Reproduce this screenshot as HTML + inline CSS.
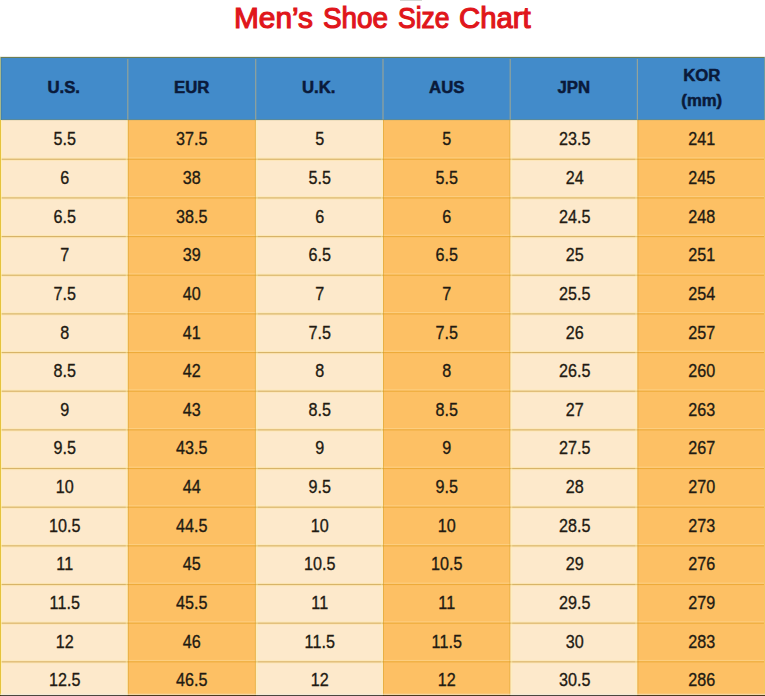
<!DOCTYPE html>
<html lang="en"><head><meta charset="utf-8"><title>Men's Shoe Size Chart</title>
<style>
html,body{margin:0;padding:0;background:#fff;}
body{width:765px;height:696px;overflow:hidden;position:relative;font-family:"Liberation Sans",Arial,sans-serif;}
#title{position:absolute;left:0;top:1px;width:765px;height:40px;color:#e0161b;-webkit-text-stroke:1.2px #e0161b;font-size:29.8px;line-height:normal;white-space:nowrap;}
#title span{position:absolute;top:0;display:block;transform-origin:0 50%;}
#grid{position:absolute;left:0;top:0;width:765px;height:696px;}
#tbl{position:absolute;left:0;top:57px;width:765px;height:639px;overflow:hidden;}
.hd{position:absolute;top:0;height:63px;color:#0a1a3a;-webkit-text-stroke:0.5px #0a1a3a;font-weight:bold;font-size:16px;text-align:center;}
.hd div{position:absolute;left:0;width:100%;height:25px;line-height:25px;transform:scaleX(1.045);}
.cell{position:absolute;height:38.66px;line-height:38.66px;text-align:center;font-size:17px;transform:scale(0.95,1.05);color:#221a12;-webkit-text-stroke:0.3px #221a12;}
</style></head><body>

<svg id="grid" width="765" height="696" viewBox="0 0 765 696">
<rect x="400" y="0" width="22" height="0.6" fill="#b9c0b9"/>
<rect x="0" y="120" width="765" height="576" fill="#fde9cb"/>
<rect x="127.80" y="120" width="127.90" height="576" fill="#fdc064"/>
<rect x="383.00" y="120" width="127.20" height="576" fill="#fdc064"/>
<rect x="637.40" y="120" width="127.60" height="576" fill="#fdc064"/>
<rect x="0" y="57" width="765" height="63" fill="#428bca"/>
<rect x="0" y="157.35" width="765" height="1.2" fill="#fff6cf" fill-opacity="0.25"/>
<rect x="0.00" y="157.65" width="127.80" height="3.2" fill="#ffe08a" fill-opacity="0.32"/>
<rect x="0.00" y="158.70" width="127.80" height="1.1" fill="#b4821c" fill-opacity="0.5"/>
<rect x="127.80" y="158.70" width="127.90" height="1.1" fill="#d89000" fill-opacity="0.42"/>
<rect x="255.70" y="157.65" width="127.30" height="3.2" fill="#ffe08a" fill-opacity="0.32"/>
<rect x="255.70" y="158.70" width="127.30" height="1.1" fill="#b4821c" fill-opacity="0.5"/>
<rect x="383.00" y="158.70" width="127.20" height="1.1" fill="#d89000" fill-opacity="0.42"/>
<rect x="510.20" y="157.65" width="127.20" height="3.2" fill="#ffe08a" fill-opacity="0.32"/>
<rect x="510.20" y="158.70" width="127.20" height="1.1" fill="#b4821c" fill-opacity="0.5"/>
<rect x="637.40" y="158.70" width="127.60" height="1.1" fill="#d89000" fill-opacity="0.42"/>
<rect x="0" y="196.01" width="765" height="1.2" fill="#fff6cf" fill-opacity="0.25"/>
<rect x="0.00" y="196.31" width="127.80" height="3.2" fill="#ffe08a" fill-opacity="0.32"/>
<rect x="0.00" y="197.36" width="127.80" height="1.1" fill="#b4821c" fill-opacity="0.5"/>
<rect x="127.80" y="197.36" width="127.90" height="1.1" fill="#d89000" fill-opacity="0.42"/>
<rect x="255.70" y="196.31" width="127.30" height="3.2" fill="#ffe08a" fill-opacity="0.32"/>
<rect x="255.70" y="197.36" width="127.30" height="1.1" fill="#b4821c" fill-opacity="0.5"/>
<rect x="383.00" y="197.36" width="127.20" height="1.1" fill="#d89000" fill-opacity="0.42"/>
<rect x="510.20" y="196.31" width="127.20" height="3.2" fill="#ffe08a" fill-opacity="0.32"/>
<rect x="510.20" y="197.36" width="127.20" height="1.1" fill="#b4821c" fill-opacity="0.5"/>
<rect x="637.40" y="197.36" width="127.60" height="1.1" fill="#d89000" fill-opacity="0.42"/>
<rect x="0" y="234.67" width="765" height="1.2" fill="#fff6cf" fill-opacity="0.25"/>
<rect x="0.00" y="234.97" width="127.80" height="3.2" fill="#ffe08a" fill-opacity="0.32"/>
<rect x="0.00" y="236.02" width="127.80" height="1.1" fill="#b4821c" fill-opacity="0.5"/>
<rect x="127.80" y="236.02" width="127.90" height="1.1" fill="#d89000" fill-opacity="0.42"/>
<rect x="255.70" y="234.97" width="127.30" height="3.2" fill="#ffe08a" fill-opacity="0.32"/>
<rect x="255.70" y="236.02" width="127.30" height="1.1" fill="#b4821c" fill-opacity="0.5"/>
<rect x="383.00" y="236.02" width="127.20" height="1.1" fill="#d89000" fill-opacity="0.42"/>
<rect x="510.20" y="234.97" width="127.20" height="3.2" fill="#ffe08a" fill-opacity="0.32"/>
<rect x="510.20" y="236.02" width="127.20" height="1.1" fill="#b4821c" fill-opacity="0.5"/>
<rect x="637.40" y="236.02" width="127.60" height="1.1" fill="#d89000" fill-opacity="0.42"/>
<rect x="0" y="273.33" width="765" height="1.2" fill="#fff6cf" fill-opacity="0.25"/>
<rect x="0.00" y="273.63" width="127.80" height="3.2" fill="#ffe08a" fill-opacity="0.32"/>
<rect x="0.00" y="274.68" width="127.80" height="1.1" fill="#b4821c" fill-opacity="0.5"/>
<rect x="127.80" y="274.68" width="127.90" height="1.1" fill="#d89000" fill-opacity="0.42"/>
<rect x="255.70" y="273.63" width="127.30" height="3.2" fill="#ffe08a" fill-opacity="0.32"/>
<rect x="255.70" y="274.68" width="127.30" height="1.1" fill="#b4821c" fill-opacity="0.5"/>
<rect x="383.00" y="274.68" width="127.20" height="1.1" fill="#d89000" fill-opacity="0.42"/>
<rect x="510.20" y="273.63" width="127.20" height="3.2" fill="#ffe08a" fill-opacity="0.32"/>
<rect x="510.20" y="274.68" width="127.20" height="1.1" fill="#b4821c" fill-opacity="0.5"/>
<rect x="637.40" y="274.68" width="127.60" height="1.1" fill="#d89000" fill-opacity="0.42"/>
<rect x="0" y="311.99" width="765" height="1.2" fill="#fff6cf" fill-opacity="0.25"/>
<rect x="0.00" y="312.29" width="127.80" height="3.2" fill="#ffe08a" fill-opacity="0.32"/>
<rect x="0.00" y="313.34" width="127.80" height="1.1" fill="#b4821c" fill-opacity="0.5"/>
<rect x="127.80" y="313.34" width="127.90" height="1.1" fill="#d89000" fill-opacity="0.42"/>
<rect x="255.70" y="312.29" width="127.30" height="3.2" fill="#ffe08a" fill-opacity="0.32"/>
<rect x="255.70" y="313.34" width="127.30" height="1.1" fill="#b4821c" fill-opacity="0.5"/>
<rect x="383.00" y="313.34" width="127.20" height="1.1" fill="#d89000" fill-opacity="0.42"/>
<rect x="510.20" y="312.29" width="127.20" height="3.2" fill="#ffe08a" fill-opacity="0.32"/>
<rect x="510.20" y="313.34" width="127.20" height="1.1" fill="#b4821c" fill-opacity="0.5"/>
<rect x="637.40" y="313.34" width="127.60" height="1.1" fill="#d89000" fill-opacity="0.42"/>
<rect x="0" y="350.65" width="765" height="1.2" fill="#fff6cf" fill-opacity="0.25"/>
<rect x="0.00" y="350.95" width="127.80" height="3.2" fill="#ffe08a" fill-opacity="0.32"/>
<rect x="0.00" y="352.00" width="127.80" height="1.1" fill="#b4821c" fill-opacity="0.5"/>
<rect x="127.80" y="352.00" width="127.90" height="1.1" fill="#d89000" fill-opacity="0.42"/>
<rect x="255.70" y="350.95" width="127.30" height="3.2" fill="#ffe08a" fill-opacity="0.32"/>
<rect x="255.70" y="352.00" width="127.30" height="1.1" fill="#b4821c" fill-opacity="0.5"/>
<rect x="383.00" y="352.00" width="127.20" height="1.1" fill="#d89000" fill-opacity="0.42"/>
<rect x="510.20" y="350.95" width="127.20" height="3.2" fill="#ffe08a" fill-opacity="0.32"/>
<rect x="510.20" y="352.00" width="127.20" height="1.1" fill="#b4821c" fill-opacity="0.5"/>
<rect x="637.40" y="352.00" width="127.60" height="1.1" fill="#d89000" fill-opacity="0.42"/>
<rect x="0" y="389.31" width="765" height="1.2" fill="#fff6cf" fill-opacity="0.25"/>
<rect x="0.00" y="389.61" width="127.80" height="3.2" fill="#ffe08a" fill-opacity="0.32"/>
<rect x="0.00" y="390.66" width="127.80" height="1.1" fill="#b4821c" fill-opacity="0.5"/>
<rect x="127.80" y="390.66" width="127.90" height="1.1" fill="#d89000" fill-opacity="0.42"/>
<rect x="255.70" y="389.61" width="127.30" height="3.2" fill="#ffe08a" fill-opacity="0.32"/>
<rect x="255.70" y="390.66" width="127.30" height="1.1" fill="#b4821c" fill-opacity="0.5"/>
<rect x="383.00" y="390.66" width="127.20" height="1.1" fill="#d89000" fill-opacity="0.42"/>
<rect x="510.20" y="389.61" width="127.20" height="3.2" fill="#ffe08a" fill-opacity="0.32"/>
<rect x="510.20" y="390.66" width="127.20" height="1.1" fill="#b4821c" fill-opacity="0.5"/>
<rect x="637.40" y="390.66" width="127.60" height="1.1" fill="#d89000" fill-opacity="0.42"/>
<rect x="0" y="427.97" width="765" height="1.2" fill="#fff6cf" fill-opacity="0.25"/>
<rect x="0.00" y="428.27" width="127.80" height="3.2" fill="#ffe08a" fill-opacity="0.32"/>
<rect x="0.00" y="429.32" width="127.80" height="1.1" fill="#b4821c" fill-opacity="0.5"/>
<rect x="127.80" y="429.32" width="127.90" height="1.1" fill="#d89000" fill-opacity="0.42"/>
<rect x="255.70" y="428.27" width="127.30" height="3.2" fill="#ffe08a" fill-opacity="0.32"/>
<rect x="255.70" y="429.32" width="127.30" height="1.1" fill="#b4821c" fill-opacity="0.5"/>
<rect x="383.00" y="429.32" width="127.20" height="1.1" fill="#d89000" fill-opacity="0.42"/>
<rect x="510.20" y="428.27" width="127.20" height="3.2" fill="#ffe08a" fill-opacity="0.32"/>
<rect x="510.20" y="429.32" width="127.20" height="1.1" fill="#b4821c" fill-opacity="0.5"/>
<rect x="637.40" y="429.32" width="127.60" height="1.1" fill="#d89000" fill-opacity="0.42"/>
<rect x="0" y="466.63" width="765" height="1.2" fill="#fff6cf" fill-opacity="0.25"/>
<rect x="0.00" y="466.93" width="127.80" height="3.2" fill="#ffe08a" fill-opacity="0.32"/>
<rect x="0.00" y="467.98" width="127.80" height="1.1" fill="#b4821c" fill-opacity="0.5"/>
<rect x="127.80" y="467.98" width="127.90" height="1.1" fill="#d89000" fill-opacity="0.42"/>
<rect x="255.70" y="466.93" width="127.30" height="3.2" fill="#ffe08a" fill-opacity="0.32"/>
<rect x="255.70" y="467.98" width="127.30" height="1.1" fill="#b4821c" fill-opacity="0.5"/>
<rect x="383.00" y="467.98" width="127.20" height="1.1" fill="#d89000" fill-opacity="0.42"/>
<rect x="510.20" y="466.93" width="127.20" height="3.2" fill="#ffe08a" fill-opacity="0.32"/>
<rect x="510.20" y="467.98" width="127.20" height="1.1" fill="#b4821c" fill-opacity="0.5"/>
<rect x="637.40" y="467.98" width="127.60" height="1.1" fill="#d89000" fill-opacity="0.42"/>
<rect x="0" y="505.29" width="765" height="1.2" fill="#fff6cf" fill-opacity="0.25"/>
<rect x="0.00" y="505.59" width="127.80" height="3.2" fill="#ffe08a" fill-opacity="0.32"/>
<rect x="0.00" y="506.64" width="127.80" height="1.1" fill="#b4821c" fill-opacity="0.5"/>
<rect x="127.80" y="506.64" width="127.90" height="1.1" fill="#d89000" fill-opacity="0.42"/>
<rect x="255.70" y="505.59" width="127.30" height="3.2" fill="#ffe08a" fill-opacity="0.32"/>
<rect x="255.70" y="506.64" width="127.30" height="1.1" fill="#b4821c" fill-opacity="0.5"/>
<rect x="383.00" y="506.64" width="127.20" height="1.1" fill="#d89000" fill-opacity="0.42"/>
<rect x="510.20" y="505.59" width="127.20" height="3.2" fill="#ffe08a" fill-opacity="0.32"/>
<rect x="510.20" y="506.64" width="127.20" height="1.1" fill="#b4821c" fill-opacity="0.5"/>
<rect x="637.40" y="506.64" width="127.60" height="1.1" fill="#d89000" fill-opacity="0.42"/>
<rect x="0" y="543.95" width="765" height="1.2" fill="#fff6cf" fill-opacity="0.25"/>
<rect x="0.00" y="544.25" width="127.80" height="3.2" fill="#ffe08a" fill-opacity="0.32"/>
<rect x="0.00" y="545.30" width="127.80" height="1.1" fill="#b4821c" fill-opacity="0.5"/>
<rect x="127.80" y="545.30" width="127.90" height="1.1" fill="#d89000" fill-opacity="0.42"/>
<rect x="255.70" y="544.25" width="127.30" height="3.2" fill="#ffe08a" fill-opacity="0.32"/>
<rect x="255.70" y="545.30" width="127.30" height="1.1" fill="#b4821c" fill-opacity="0.5"/>
<rect x="383.00" y="545.30" width="127.20" height="1.1" fill="#d89000" fill-opacity="0.42"/>
<rect x="510.20" y="544.25" width="127.20" height="3.2" fill="#ffe08a" fill-opacity="0.32"/>
<rect x="510.20" y="545.30" width="127.20" height="1.1" fill="#b4821c" fill-opacity="0.5"/>
<rect x="637.40" y="545.30" width="127.60" height="1.1" fill="#d89000" fill-opacity="0.42"/>
<rect x="0" y="582.61" width="765" height="1.2" fill="#fff6cf" fill-opacity="0.25"/>
<rect x="0.00" y="582.91" width="127.80" height="3.2" fill="#ffe08a" fill-opacity="0.32"/>
<rect x="0.00" y="583.96" width="127.80" height="1.1" fill="#b4821c" fill-opacity="0.5"/>
<rect x="127.80" y="583.96" width="127.90" height="1.1" fill="#d89000" fill-opacity="0.42"/>
<rect x="255.70" y="582.91" width="127.30" height="3.2" fill="#ffe08a" fill-opacity="0.32"/>
<rect x="255.70" y="583.96" width="127.30" height="1.1" fill="#b4821c" fill-opacity="0.5"/>
<rect x="383.00" y="583.96" width="127.20" height="1.1" fill="#d89000" fill-opacity="0.42"/>
<rect x="510.20" y="582.91" width="127.20" height="3.2" fill="#ffe08a" fill-opacity="0.32"/>
<rect x="510.20" y="583.96" width="127.20" height="1.1" fill="#b4821c" fill-opacity="0.5"/>
<rect x="637.40" y="583.96" width="127.60" height="1.1" fill="#d89000" fill-opacity="0.42"/>
<rect x="0" y="621.27" width="765" height="1.2" fill="#fff6cf" fill-opacity="0.25"/>
<rect x="0.00" y="621.57" width="127.80" height="3.2" fill="#ffe08a" fill-opacity="0.32"/>
<rect x="0.00" y="622.62" width="127.80" height="1.1" fill="#b4821c" fill-opacity="0.5"/>
<rect x="127.80" y="622.62" width="127.90" height="1.1" fill="#d89000" fill-opacity="0.42"/>
<rect x="255.70" y="621.57" width="127.30" height="3.2" fill="#ffe08a" fill-opacity="0.32"/>
<rect x="255.70" y="622.62" width="127.30" height="1.1" fill="#b4821c" fill-opacity="0.5"/>
<rect x="383.00" y="622.62" width="127.20" height="1.1" fill="#d89000" fill-opacity="0.42"/>
<rect x="510.20" y="621.57" width="127.20" height="3.2" fill="#ffe08a" fill-opacity="0.32"/>
<rect x="510.20" y="622.62" width="127.20" height="1.1" fill="#b4821c" fill-opacity="0.5"/>
<rect x="637.40" y="622.62" width="127.60" height="1.1" fill="#d89000" fill-opacity="0.42"/>
<rect x="0" y="659.93" width="765" height="1.2" fill="#fff6cf" fill-opacity="0.25"/>
<rect x="0.00" y="660.23" width="127.80" height="3.2" fill="#ffe08a" fill-opacity="0.32"/>
<rect x="0.00" y="661.28" width="127.80" height="1.1" fill="#b4821c" fill-opacity="0.5"/>
<rect x="127.80" y="661.28" width="127.90" height="1.1" fill="#d89000" fill-opacity="0.42"/>
<rect x="255.70" y="660.23" width="127.30" height="3.2" fill="#ffe08a" fill-opacity="0.32"/>
<rect x="255.70" y="661.28" width="127.30" height="1.1" fill="#b4821c" fill-opacity="0.5"/>
<rect x="383.00" y="661.28" width="127.20" height="1.1" fill="#d89000" fill-opacity="0.42"/>
<rect x="510.20" y="660.23" width="127.20" height="3.2" fill="#ffe08a" fill-opacity="0.32"/>
<rect x="510.20" y="661.28" width="127.20" height="1.1" fill="#b4821c" fill-opacity="0.5"/>
<rect x="637.40" y="661.28" width="127.60" height="1.1" fill="#d89000" fill-opacity="0.42"/>
<rect x="127.80" y="120" width="1" height="576" fill="#c8960c" fill-opacity="0.38"/>
<rect x="125.70" y="120" width="1.6" height="576" fill="#fff2b0" fill-opacity="0.4"/>
<rect x="127.20" y="59" width="1.2" height="61" fill="#98a498" fill-opacity="0.95"/>
<rect x="254.90" y="120" width="1" height="576" fill="#c8960c" fill-opacity="0.38"/>
<rect x="256.20" y="120" width="1.6" height="576" fill="#fff2b0" fill-opacity="0.4"/>
<rect x="255.10" y="59" width="1.2" height="61" fill="#98a498" fill-opacity="0.95"/>
<rect x="383.00" y="120" width="1" height="576" fill="#c8960c" fill-opacity="0.38"/>
<rect x="380.90" y="120" width="1.6" height="576" fill="#fff2b0" fill-opacity="0.4"/>
<rect x="382.40" y="59" width="1.2" height="61" fill="#98a498" fill-opacity="0.95"/>
<rect x="509.40" y="120" width="1" height="576" fill="#c8960c" fill-opacity="0.38"/>
<rect x="510.70" y="120" width="1.6" height="576" fill="#fff2b0" fill-opacity="0.4"/>
<rect x="509.60" y="59" width="1.2" height="61" fill="#98a498" fill-opacity="0.95"/>
<rect x="637.40" y="120" width="1" height="576" fill="#c8960c" fill-opacity="0.38"/>
<rect x="635.30" y="120" width="1.6" height="576" fill="#fff2b0" fill-opacity="0.4"/>
<rect x="636.80" y="59" width="1.2" height="61" fill="#98a498" fill-opacity="0.95"/>
<rect x="0" y="56.85" width="765" height="1.1" fill="#777a3a" fill-opacity="0.85"/>
<rect x="0" y="119.3" width="765" height="0.9" fill="#7f8a58" fill-opacity="0.55"/>
<rect x="0" y="57" width="1" height="63" fill="#a8b88a"/>
<rect x="1" y="58" width="1" height="62" fill="#3f7d9c" fill-opacity="0.5"/>
<rect x="0" y="120" width="1" height="576" fill="#e6c23c"/>
<rect x="1" y="120" width="1" height="576" fill="#fff2b0" fill-opacity="0.6"/>
<rect x="764" y="57" width="1" height="63" fill="#6f9c9c"/>
<rect x="764" y="120" width="1" height="576" fill="#f3c860"/>
<rect x="0" y="693" width="765" height="1" fill="#ebebe1" fill-opacity="0.15"/>
<rect x="0" y="694" width="765" height="1" fill="#ebebe1" fill-opacity="0.5"/>
<rect x="0" y="695" width="765" height="1" fill="#000" fill-opacity="0.7"/>
</svg>
<div id="title"><span style="left:234.22px;transform:scaleX(1.001)">Men’s</span> <span style="left:323.44px;transform:scaleX(0.936)">Shoe</span> <span style="left:398.38px;transform:scaleX(0.888)">Size</span> <span style="left:459.37px;transform:scaleX(0.982)">Chart</span></div>
<div id="tbl">
<div class="hd" style="left:0.3px;width:127.5px"><div style="top:18px">U.S.</div></div>
<div class="hd" style="left:127.8px;width:127.5px"><div style="top:18px">EUR</div></div>
<div class="hd" style="left:255.3px;width:127.5px"><div style="top:18px">U.K.</div></div>
<div class="hd" style="left:382.8px;width:127.5px"><div style="top:18px">AUS</div></div>
<div class="hd" style="left:510.3px;width:127.5px"><div style="top:18px">JPN</div></div>
<div class="hd" style="left:637.8px;width:127.5px"><div style="top:6px">KOR</div><div style="top:31px">(mm)</div></div>
<div class="cell" style="left:0.6px;width:127.5px;top:64.20px">5.5</div>
<div class="cell" style="left:128.1px;width:127.5px;top:64.20px">37.5</div>
<div class="cell" style="left:255.6px;width:127.5px;top:64.20px">5</div>
<div class="cell" style="left:383.1px;width:127.5px;top:64.20px">5</div>
<div class="cell" style="left:510.6px;width:127.5px;top:64.20px">23.5</div>
<div class="cell" style="left:638.1px;width:127.5px;top:64.20px">241</div>
<div class="cell" style="left:0.6px;width:127.5px;top:102.86px">6</div>
<div class="cell" style="left:128.1px;width:127.5px;top:102.86px">38</div>
<div class="cell" style="left:255.6px;width:127.5px;top:102.86px">5.5</div>
<div class="cell" style="left:383.1px;width:127.5px;top:102.86px">5.5</div>
<div class="cell" style="left:510.6px;width:127.5px;top:102.86px">24</div>
<div class="cell" style="left:638.1px;width:127.5px;top:102.86px">245</div>
<div class="cell" style="left:0.6px;width:127.5px;top:141.52px">6.5</div>
<div class="cell" style="left:128.1px;width:127.5px;top:141.52px">38.5</div>
<div class="cell" style="left:255.6px;width:127.5px;top:141.52px">6</div>
<div class="cell" style="left:383.1px;width:127.5px;top:141.52px">6</div>
<div class="cell" style="left:510.6px;width:127.5px;top:141.52px">24.5</div>
<div class="cell" style="left:638.1px;width:127.5px;top:141.52px">248</div>
<div class="cell" style="left:0.6px;width:127.5px;top:180.18px">7</div>
<div class="cell" style="left:128.1px;width:127.5px;top:180.18px">39</div>
<div class="cell" style="left:255.6px;width:127.5px;top:180.18px">6.5</div>
<div class="cell" style="left:383.1px;width:127.5px;top:180.18px">6.5</div>
<div class="cell" style="left:510.6px;width:127.5px;top:180.18px">25</div>
<div class="cell" style="left:638.1px;width:127.5px;top:180.18px">251</div>
<div class="cell" style="left:0.6px;width:127.5px;top:218.84px">7.5</div>
<div class="cell" style="left:128.1px;width:127.5px;top:218.84px">40</div>
<div class="cell" style="left:255.6px;width:127.5px;top:218.84px">7</div>
<div class="cell" style="left:383.1px;width:127.5px;top:218.84px">7</div>
<div class="cell" style="left:510.6px;width:127.5px;top:218.84px">25.5</div>
<div class="cell" style="left:638.1px;width:127.5px;top:218.84px">254</div>
<div class="cell" style="left:0.6px;width:127.5px;top:257.50px">8</div>
<div class="cell" style="left:128.1px;width:127.5px;top:257.50px">41</div>
<div class="cell" style="left:255.6px;width:127.5px;top:257.50px">7.5</div>
<div class="cell" style="left:383.1px;width:127.5px;top:257.50px">7.5</div>
<div class="cell" style="left:510.6px;width:127.5px;top:257.50px">26</div>
<div class="cell" style="left:638.1px;width:127.5px;top:257.50px">257</div>
<div class="cell" style="left:0.6px;width:127.5px;top:296.16px">8.5</div>
<div class="cell" style="left:128.1px;width:127.5px;top:296.16px">42</div>
<div class="cell" style="left:255.6px;width:127.5px;top:296.16px">8</div>
<div class="cell" style="left:383.1px;width:127.5px;top:296.16px">8</div>
<div class="cell" style="left:510.6px;width:127.5px;top:296.16px">26.5</div>
<div class="cell" style="left:638.1px;width:127.5px;top:296.16px">260</div>
<div class="cell" style="left:0.6px;width:127.5px;top:334.82px">9</div>
<div class="cell" style="left:128.1px;width:127.5px;top:334.82px">43</div>
<div class="cell" style="left:255.6px;width:127.5px;top:334.82px">8.5</div>
<div class="cell" style="left:383.1px;width:127.5px;top:334.82px">8.5</div>
<div class="cell" style="left:510.6px;width:127.5px;top:334.82px">27</div>
<div class="cell" style="left:638.1px;width:127.5px;top:334.82px">263</div>
<div class="cell" style="left:0.6px;width:127.5px;top:373.48px">9.5</div>
<div class="cell" style="left:128.1px;width:127.5px;top:373.48px">43.5</div>
<div class="cell" style="left:255.6px;width:127.5px;top:373.48px">9</div>
<div class="cell" style="left:383.1px;width:127.5px;top:373.48px">9</div>
<div class="cell" style="left:510.6px;width:127.5px;top:373.48px">27.5</div>
<div class="cell" style="left:638.1px;width:127.5px;top:373.48px">267</div>
<div class="cell" style="left:0.6px;width:127.5px;top:412.14px">10</div>
<div class="cell" style="left:128.1px;width:127.5px;top:412.14px">44</div>
<div class="cell" style="left:255.6px;width:127.5px;top:412.14px">9.5</div>
<div class="cell" style="left:383.1px;width:127.5px;top:412.14px">9.5</div>
<div class="cell" style="left:510.6px;width:127.5px;top:412.14px">28</div>
<div class="cell" style="left:638.1px;width:127.5px;top:412.14px">270</div>
<div class="cell" style="left:0.6px;width:127.5px;top:450.80px">10.5</div>
<div class="cell" style="left:128.1px;width:127.5px;top:450.80px">44.5</div>
<div class="cell" style="left:255.6px;width:127.5px;top:450.80px">10</div>
<div class="cell" style="left:383.1px;width:127.5px;top:450.80px">10</div>
<div class="cell" style="left:510.6px;width:127.5px;top:450.80px">28.5</div>
<div class="cell" style="left:638.1px;width:127.5px;top:450.80px">273</div>
<div class="cell" style="left:0.6px;width:127.5px;top:489.46px">11</div>
<div class="cell" style="left:128.1px;width:127.5px;top:489.46px">45</div>
<div class="cell" style="left:255.6px;width:127.5px;top:489.46px">10.5</div>
<div class="cell" style="left:383.1px;width:127.5px;top:489.46px">10.5</div>
<div class="cell" style="left:510.6px;width:127.5px;top:489.46px">29</div>
<div class="cell" style="left:638.1px;width:127.5px;top:489.46px">276</div>
<div class="cell" style="left:0.6px;width:127.5px;top:528.12px">11.5</div>
<div class="cell" style="left:128.1px;width:127.5px;top:528.12px">45.5</div>
<div class="cell" style="left:255.6px;width:127.5px;top:528.12px">11</div>
<div class="cell" style="left:383.1px;width:127.5px;top:528.12px">11</div>
<div class="cell" style="left:510.6px;width:127.5px;top:528.12px">29.5</div>
<div class="cell" style="left:638.1px;width:127.5px;top:528.12px">279</div>
<div class="cell" style="left:0.6px;width:127.5px;top:566.78px">12</div>
<div class="cell" style="left:128.1px;width:127.5px;top:566.78px">46</div>
<div class="cell" style="left:255.6px;width:127.5px;top:566.78px">11.5</div>
<div class="cell" style="left:383.1px;width:127.5px;top:566.78px">11.5</div>
<div class="cell" style="left:510.6px;width:127.5px;top:566.78px">30</div>
<div class="cell" style="left:638.1px;width:127.5px;top:566.78px">283</div>
<div class="cell" style="left:0.6px;width:127.5px;top:605.44px">12.5</div>
<div class="cell" style="left:128.1px;width:127.5px;top:605.44px">46.5</div>
<div class="cell" style="left:255.6px;width:127.5px;top:605.44px">12</div>
<div class="cell" style="left:383.1px;width:127.5px;top:605.44px">12</div>
<div class="cell" style="left:510.6px;width:127.5px;top:605.44px">30.5</div>
<div class="cell" style="left:638.1px;width:127.5px;top:605.44px">286</div>
</div>
</body></html>
